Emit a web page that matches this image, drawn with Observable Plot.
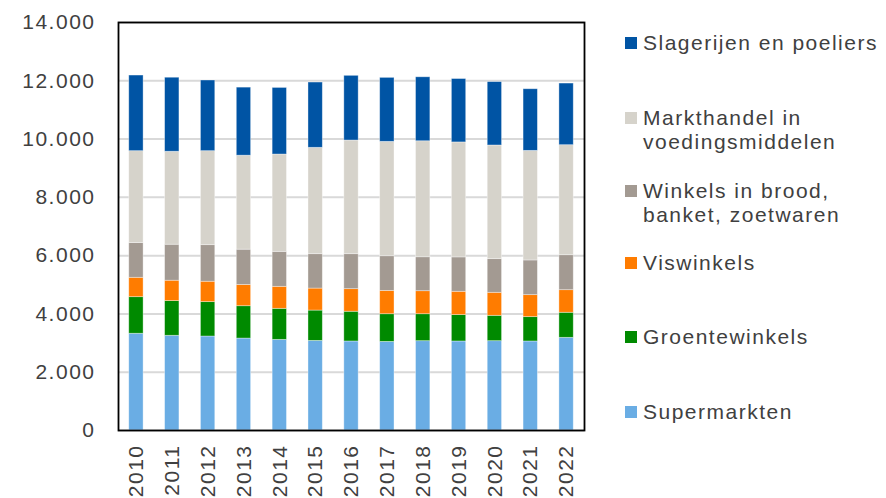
<!DOCTYPE html>
<html>
<head>
<meta charset="utf-8">
<script src="https://cdn.jsdelivr.net/npm/d3@7"></script>
<script src="https://cdn.jsdelivr.net/npm/@observablehq/plot@0.6"></script>
<style>
  html, body { margin: 0; padding: 0; background: #fff; }
  #wrap { position: relative; width: 886px; height: 498px; overflow: hidden; font-family: "Liberation Sans", Arial, sans-serif; color: #404040; }
  #chart { position: absolute; left: 0; top: 0; }
  #legend { position: absolute; left: 625px; top: 0; width: 261px; height: 498px; }
  .item { position: absolute; left: 0; display: flex; align-items: flex-start; font-size: 21px; letter-spacing: 1.5px; }
  .line { display: block; height: 24px; line-height: 24px; white-space: nowrap; overflow: visible; }
  .sw { width: 12px; height: 12px; margin-top: 6px; margin-right: 6px; flex: none; }
</style>
</head>
<body>
<div id="wrap">
  <div id="chart"></div>
  <div id="legend"></div>
</div>
<script>
const years = ["2010","2011","2012","2013","2014","2015","2016","2017","2018","2019","2020","2021","2022"];
const seriesNames = [
  "Supermarkten",
  "Groentewinkels",
  "Viswinkels",
  "Winkels in brood, banket, zoetwaren",
  "Markthandel in voedingsmiddelen",
  "Slagerijen en poeliers"
];
const seriesColors = ["#6aade4", "#008a00", "#ff7c00", "#a39a92", "#d6d3cb", "#0054a4"];

const supermarkten   = [3320, 3250, 3225, 3155, 3110, 3075, 3055, 3040, 3065, 3055, 3065, 3055, 3180];
const groentewinkels = [1255, 1190, 1180, 1110, 1065, 1040, 1020,  950,  925,  905,  870,  835,  860];
const viswinkels     = [ 665,  700,  700,  730,  755,  755,  775,  800,  790,  800,  790,  755,  775];
const broodwinkels   = [1190, 1235, 1255, 1210, 1200, 1180, 1200, 1190, 1165, 1180, 1155, 1190, 1200];
const markthandel    = [3155, 3190, 3225, 3225, 3340, 3650, 3900, 3925, 3980, 3945, 3900, 3760, 3775];
const slagerijen     = [2595, 2540, 2425, 2335, 2285, 2240, 2220, 2195, 2195, 2175, 2175, 2115, 2115];

const yTicks = [0, 2000, 4000, 6000, 8000, 10000, 12000, 14000];

// legend entries (top to bottom) and their line breaks
const legendOrder = [5, 4, 3, 2, 1, 0];
const legendLines = {
  5: ["Slagerijen en poeliers"],
  4: ["Markthandel in", "voedingsmiddelen"],
  3: ["Winkels in brood,", "banket, zoetwaren"],
  2: ["Viswinkels"],
  1: ["Groentewinkels"],
  0: ["Supermarkten"]
};
const legendTops = [31, 106, 179, 251, 325, 400];

const valuesBySeries = [supermarkten, groentewinkels, viswinkels, broodwinkels, markthandel, slagerijen];
const data = seriesNames.flatMap((s, i) => years.map((y, j) => ({year: y, series: s, value: valuesBySeries[i][j]})));

const fmt = d => d3.format(",")(d).replace(/,/g, ".");

const chart = Plot.plot({
  width: 600,
  height: 498,
  marginLeft: 118,
  marginRight: 16,
  marginTop: 22,
  marginBottom: 68,
  style: {fontFamily: "'Liberation Sans', Arial, sans-serif", fontSize: "21px", letterSpacing: "1.5px", color: "#404040", background: "white", overflow: "visible"},
  x: {domain: years, paddingInner: 0.6, paddingOuter: 0.3, round: false, label: null},
  y: {domain: [0, 14000], label: null},
  color: {domain: seriesNames, range: seriesColors},
  marks: [
    Plot.gridY(yTicks, {stroke: "#d9d9d9", strokeOpacity: 1, strokeWidth: 2}),
    Plot.barY(data, {x: "year", y: "value", fill: "series", order: seriesNames, stroke: "white", strokeOpacity: 0.45, strokeWidth: 0.8}),
    Plot.frame({stroke: "black", strokeWidth: 1.8}),
    Plot.axisY(yTicks, {tickSize: 0, tickPadding: 23, tickFormat: fmt, label: null, fill: "#404040"}),
    Plot.axisX({tickSize: 0, tickPadding: 14, tickRotate: -90, label: null, fill: "#404040"})
  ]
});
document.getElementById("chart").appendChild(chart);

const legend = document.getElementById("legend");
legendOrder.forEach((idx, k) => {
  const item = document.createElement("div");
  item.className = "item";
  item.style.top = legendTops[k] + "px";
  const sw = document.createElement("div");
  sw.className = "sw";
  sw.style.background = seriesColors[idx];
  const txt = document.createElement("div");
  legendLines[idx].forEach(l => {
    const line = document.createElement("span");
    line.className = "line";
    line.textContent = l;
    txt.appendChild(line);
  });
  item.appendChild(sw);
  item.appendChild(txt);
  legend.appendChild(item);
});
</script>
</body>
</html>
